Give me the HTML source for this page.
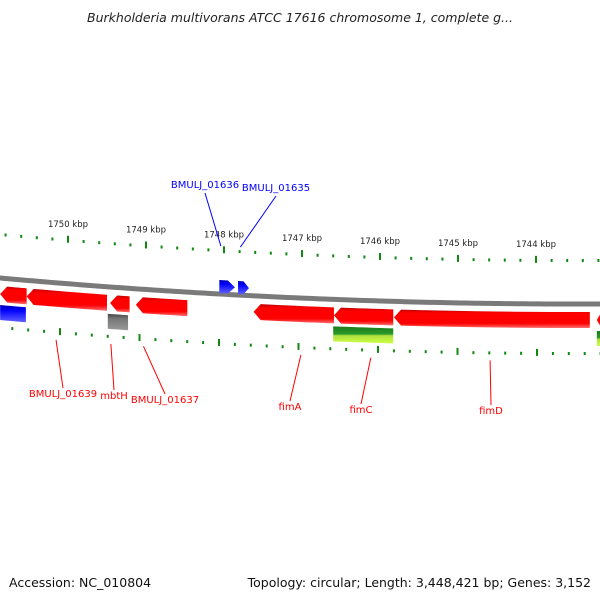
<!DOCTYPE html>
<html><head><meta charset="utf-8"><style>
body{margin:0;background:#fff;width:600px;height:600px;overflow:hidden;font-family:"DejaVu Sans","Liberation Sans",sans-serif}
</style></head><body>
<svg id="map" width="600" height="600" xmlns="http://www.w3.org/2000/svg">
<text x="300" y="22" text-anchor="middle" font-size="12.5" font-style="italic" fill="#222">Burkholderia multivorans ATCC 17616 chromosome 1, complete g...</text>
<text x="9" y="587" font-size="12.5" fill="#111">Accession: NC_010804</text>
<text x="591" y="587" font-size="12.5" fill="#111" text-anchor="end">Topology: circular; Length: 3,448,421 bp; Genes: 3,152</text>
<defs>
<linearGradient id="gRed" x1="0" y1="0" x2="0" y2="1"><stop offset="0" stop-color="#c00000"/><stop offset="0.2" stop-color="#ff0000"/><stop offset="0.75" stop-color="#ff0000"/><stop offset="1" stop-color="#ff7070"/></linearGradient>
<linearGradient id="gBlue" x1="0" y1="0" x2="0" y2="1"><stop offset="0" stop-color="#0000b0"/><stop offset="0.3" stop-color="#0000ff"/><stop offset="1" stop-color="#6060ff"/></linearGradient>
<linearGradient id="gGray" x1="0" y1="0" x2="0" y2="1"><stop offset="0" stop-color="#444"/><stop offset="0.3" stop-color="#777"/><stop offset="1" stop-color="#999"/></linearGradient>
<linearGradient id="gGreen" x1="0" y1="0" x2="0" y2="1"><stop offset="0" stop-color="#1a7a1a"/><stop offset="0.45" stop-color="#2a9a2a"/><stop offset="0.55" stop-color="#b0e040"/><stop offset="1" stop-color="#ccff44"/></linearGradient>
<linearGradient id="gBB" x1="0" y1="0" x2="0" y2="1"><stop offset="0" stop-color="#999"/><stop offset="0.5" stop-color="#666"/><stop offset="1" stop-color="#aaa"/></linearGradient>
</defs>
<g id="layer"></g>
</svg>
<script>
const tickKbp=[1750,1749,1748,1747,1746,1745,1744];
const tickLabels=["1750 kbp","1749 kbp","1748 kbp","1747 kbp","1746 kbp","1745 kbp","1744 kbp"];
const geneStart=[1750.87,1750.53,1749.46,1749.13,1747.62,1746.59,1745.82,1743.22,1748.06,1747.82,1749.49,1750.87,1746.60,1743.22];
const geneEnd  =[1750.53,1749.50,1749.21,1748.47,1746.59,1745.83,1743.31,1743.10,1747.86,1747.68,1749.23,1750.54,1745.83,1743.10];
const geneTrack=["rev","rev","rev","rev","rev","rev","rev","rev","fwd","fwd","cds2","cds2","cds2","cds2"];
const geneColor=["gRed","gRed","gRed","gRed","gRed","gRed","gRed","gRed","gBlue","gBlue","gGray","gBlue","gGreen","gGreen"];
const labelNames=["BMULJ_01636","BMULJ_01635","BMULJ_01639","mbtH","BMULJ_01637","fimA","fimC","fimD"];
const labelKbp=[1748.04,1747.79,1750.05,1749.36,1748.95,1746.97,1746.09,1744.59];
const labelColor=["#0000ff","#0000ff","#ff0000","#ff0000","#ff0000","#ff0000","#ff0000","#ff0000"];
const labelTx=[205,276,63,114,165,290,361,491];
const labelTy=[188,191,397,399,403,410,413,414];

const NS="http://www.w3.org/2000/svg";
const layer=document.getElementById('layer');
function X(k){return 68+(1750-k)*78;}
function XI(k){return 60+(1750-k)*79.5;}
function Y(x){const t=x/600;return (1-t)*(1-t)*278+2*t*(1-t)*305+t*t*304;}
function mk(tag,attrs){const e=document.createElementNS(NS,tag);for(const k in attrs)e.setAttribute(k,attrs[k]);layer.appendChild(e);return e;}

// backbone
let d="";for(let x=-5;x<=605;x+=5){d+=(x==-5?"M":"L")+x+","+Y(x).toFixed(2);}
let bb=mk('path',{d:d,stroke:'#7a7a7a','stroke-width':5,fill:'none'});



// ticks
for(let k=1751;k>=1743;k-=0.2){
  const kk=Math.round(k*10)/10;const major=Math.abs(kk-Math.round(kk))<0.01;
  const xo=X(kk);if(xo>-3&&xo<603){const yo=Y(xo)-44;
    const t=mk('rect',{x:xo-1,y:major?yo-4:yo-1,width:2,height:major?7:3,fill:'#118811'});
    
    }
  const xi=XI(kk);if(xi>-3&&xi<603){const yi=Y(xi)+49;
    const t=mk('rect',{x:xi-1,y:major?yi-4:yi-1,width:2,height:major?7:3,fill:'#118811'});
    
    }
}
tickKbp.forEach((k,i)=>{const x=X(k);
  const t=mk('text',{x:x,y:Y(x)-57,'font-size':8.5,'text-anchor':'middle',fill:'#222'});
  t.textContent=tickLabels[i];
  
  });

// genes
const trackOff={rev:[8,24],fwd:[-14,-1],cds2:[27,42]};
geneStart.forEach((s,i)=>{
  const tr=geneTrack[i];const [a,b]=trackOff[tr];
  let x1=X(s),x2=X(geneEnd[i]);
  const left=Math.min(x1,x2),right=Math.max(x1,x2);
  const ah=(tr==="cds2")?0:Math.min(7,(right-left)*0.5);
  let top="",bot="";
  const n=10;
  if(tr==="rev"){
    const xs=left+ah;
    for(let j=0;j<=n;j++){const x=xs+(right-xs)*j/n;top+=`L${x},${Y(x)+a} `;}
    for(let j=n;j>=0;j--){const x=xs+(right-xs)*j/n;bot+=`L${x},${Y(x)+b} `;}
    d=`M${left},${Y(left)+(a+b)/2} `+top+bot+"Z";
  }else if(tr==="fwd"){
    const xe=right-ah;
    for(let j=0;j<=n;j++){const x=left+(xe-left)*j/n;top+=`L${x},${Y(x)+a} `;}
    for(let j=n;j>=0;j--){const x=left+(xe-left)*j/n;bot+=`L${x},${Y(x)+b} `;}
    d="M"+top.slice(1)+`L${right},${Y(right)+(a+b)/2} `+bot+"Z";
  }else{
    for(let j=0;j<=n;j++){const x=left+(right-left)*j/n;top+=`L${x},${Y(x)+a} `;}
    for(let j=n;j>=0;j--){const x=left+(right-left)*j/n;bot+=`L${x},${Y(x)+b} `;}
    d="M"+top.slice(1)+bot+"Z";
  }
  const g=mk('path',{d:d,fill:`url(#${geneColor[i]})`});
  
  
});

// labels
labelNames.forEach((nm,i)=>{
  const blue=labelColor[i]==="#0000ff";
  const x=blue?X(labelKbp[i]):XI(labelKbp[i]);
  const y0=blue?Y(x)-48:Y(x)+57;
  const ty=labelTy[i],tx=labelTx[i];
  const l=mk('line',{x1:x,y1:y0,x2:tx,y2:blue?ty+5:ty-9,stroke:labelColor[i],'stroke-width':1});
  
  
  const t=mk('text',{x:tx,y:ty,'font-size':10,'text-anchor':'middle',fill:labelColor[i]});
  t.textContent=nm;
  
  
});
</script>
</body></html>
